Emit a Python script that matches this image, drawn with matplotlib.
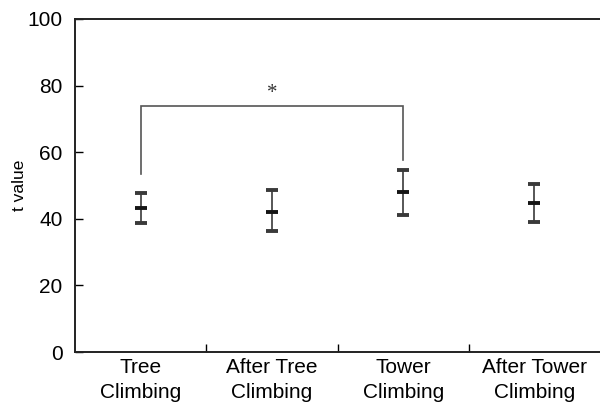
import matplotlib
matplotlib.use("Agg")
import matplotlib.pyplot as plt
import numpy as np

categories = ["Tree\nClimbing", "After Tree\nClimbing", "Tower\nClimbing", "After Tower\nClimbing"]
means = [43.1, 42.1, 48.1, 44.6]
upper = [47.6, 48.6, 54.6, 50.6]
lower = [38.6, 36.3, 41.1, 39.1]

# significance bracket between Tree and Tower
bracket_pair = (0, 2)
bracket_y = 74
bracket_ends = [53.5, 57.8]
y_ticks = [0, 20, 40, 60, 80, 100]

plt.rcParams['font.family'] = ['Liberation Sans', 'DejaVu Sans']

fig = plt.figure(figsize=(6, 4.12), dpi=100)
ax = fig.add_axes([0.125, 0.1456, 0.875, 0.8083])

x = np.arange(len(categories))
means = np.array(means)
yerr = [means - np.array(lower), np.array(upper) - means]
_, caps, _ = ax.errorbar(x, means, yerr=yerr, fmt='_', color='#151515', ecolor='#3a3a3a',
                         elinewidth=1.2, capsize=4.6, capthick=2.8, markersize=9.2, mew=2.8)
# caps in black
for cap in caps:
    cap.set_color('#151515')

# bracket
x0, x1 = bracket_pair
ax.plot([x0, x0, x1, x1], [bracket_ends[0], bracket_y, bracket_y, bracket_ends[1]],
        color='#555555', lw=1.2, solid_joinstyle='miter')
ax.text((x0 + x1) / 2, bracket_y + 3.6, "*", ha='center', va='center',
        fontsize=15, family='Liberation Serif', color='#333333')

ax.set_xlim(-0.5, 3.5)
ax.set_ylim(0, 100)
ax.set_yticks(y_ticks)
ax.tick_params(axis='y', direction='in', length=6, width=1, labelsize=15, pad=9)
ax.set_xticks(x)
ax.set_xticklabels(categories, fontsize=15, linespacing=1.45)
ax.tick_params(axis='x', which='major', length=0, pad=4)
ax.set_xticks([0.5, 1.5, 2.5], minor=True)
ax.tick_params(axis='x', which='minor', direction='in', length=6, width=1)
ax.set_ylabel("t value", fontsize=12.5, labelpad=0)

for s in ['left', 'bottom', 'top']:
    ax.spines[s].set_linewidth(1.4)
    ax.spines[s].set_color('#222222')
ax.spines['right'].set_visible(False)

fig.savefig("out.png", dpi=100)
